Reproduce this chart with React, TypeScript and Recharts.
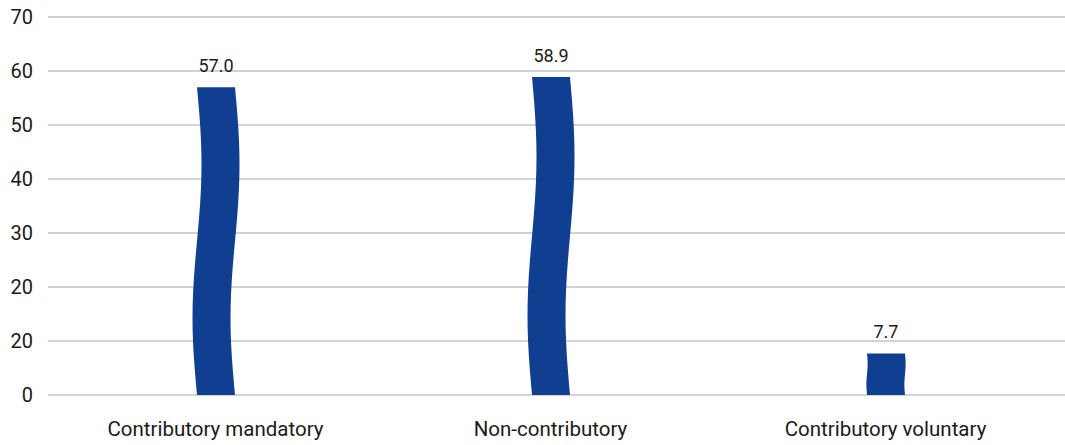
import React from "react";
import { Bar, BarChart, CartesianGrid, LabelList, XAxis, YAxis } from "recharts";

const categories = ["Contributory mandatory", "Non-contributory", "Contributory voluntary"];
const values = [57.0, 58.9, 7.7];
const yTicks = [0, 10, 20, 30, 40, 50, 60, 70];
// the source chart labels the 10 line as "20"
const yTickLabels = ["0", "20", "20", "30", "40", "50", "60", "70"];

const data = categories.map((name, i) => ({ name, value: values[i] }));

const FONT = "Roboto, 'Open Sans', sans-serif";
const BLUE = "#103e90";

// bar with a gentle S-shaped sway, like the hand-drawn columns in the source
function WavyBar(props: any) {
  const { x, y, width, height } = props;
  if (!height || height <= 0) return null;
  const amp = 4.5 * Math.min(1, height / 300);
  const steps = 24;
  const left: string[] = [];
  const right: string[] = [];
  for (let i = 0; i <= steps; i++) {
    const t = i / steps;
    const dx = amp * Math.sin(2 * Math.PI * t);
    const yy = y + t * height;
    left.push(`${x + dx},${yy}`);
    right.push(`${x + width + dx},${yy}`);
  }
  const d = `M${left.reverse().join(" L")} L${right.join(" L")} Z`;
  return <path d={d} fill={BLUE} />;
}

export default function App() {
  return (
    <div style={{ position: "absolute", left: 0, top: 0, background: "#fff" }}>
      <BarChart
        width={1065}
        height={445}
        data={data}
        margin={{ top: 17, right: 0, bottom: 0, left: 0 }}
        barCategoryGap="0%"
      >
        <CartesianGrid vertical={false} stroke="#c4c4c4" strokeWidth={1.3} />
        <XAxis
          dataKey="name"
          height={50}
          axisLine={false}
          tickLine={false}
          tickMargin={20}
          padding={{ left: 0, right: 12 }}
          tick={{ fill: "#1a1a1a", fontSize: 20.5, fontFamily: FONT }}
        />
        <YAxis
          width={48}
          domain={[0, 70]}
          ticks={yTicks}
          interval={0}
          axisLine={false}
          tickLine={false}
          tickMargin={9}
          tickFormatter={(v: number) => yTickLabels[yTicks.indexOf(v)] ?? String(v)}
          tick={{ fill: "#1a1a1a", fontSize: 20, fontFamily: FONT }}
        />
        <Bar dataKey="value" barSize={38} shape={<WavyBar />} isAnimationActive={false}>
          <LabelList
            dataKey="value"
            position="top"
            offset={15}
            formatter={(v: number) => v.toFixed(1)}
            style={{ fill: "#1a1a1a", fontSize: 18, fontFamily: FONT }}
          />
        </Bar>
      </BarChart>
    </div>
  );
}
